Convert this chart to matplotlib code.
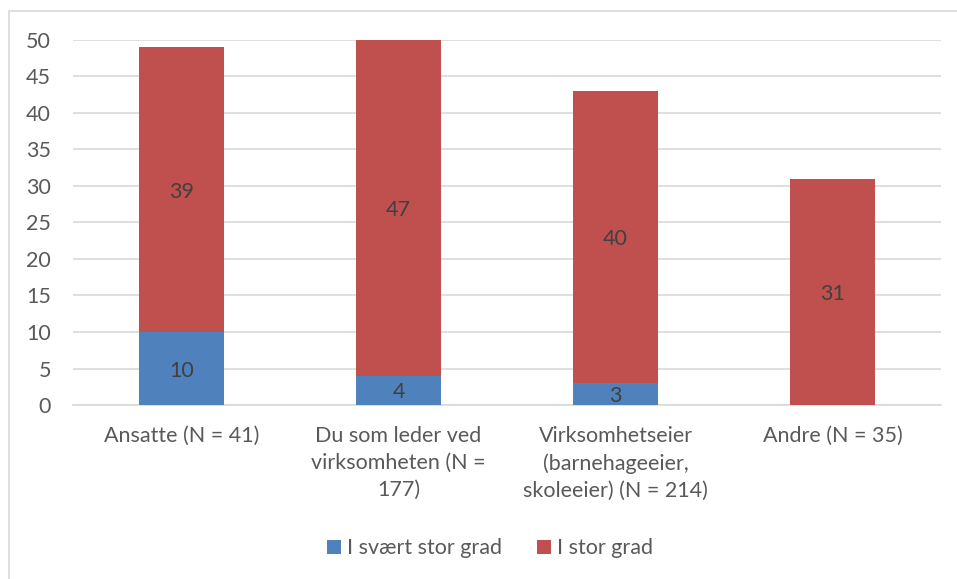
import numpy as np
import matplotlib
matplotlib.use("Agg")
import matplotlib.pyplot as plt
from matplotlib.patches import Rectangle

# ── data ──────────────────────────────────────────────────────────────────────
categories = [
    "Ansatte (N = 41)",
    "Du som leder ved\nvirksomheten (N =\n177)",
    "Virksomhetseier\n(barnehageeier,\nskoleeier) (N = 214)",
    "Andre (N = 35)",
]
svaert_stor = [10, 4, 3, 0]
stor = [39, 47, 40, 31]
series_names = ["I svært stor grad", "I stor grad"]

BLUE = "#4F81BD"
RED = "#C0504D"
TXT = "#595959"
GRID = "#D9D9D9"
YMAX = 50
FS = 15.5

plt.rcParams.update({
    "font.family": ["Lato", "DejaVu Sans"],
    "font.size": FS,
})

fig = plt.figure(figsize=(9.57, 5.79), dpi=100)
ax = fig.add_axes([0.0763, 0.3005, 0.907, 0.6305])

x = np.arange(len(categories))
w = 0.396
b1 = ax.bar(x, svaert_stor, w, color=BLUE, label=series_names[0], zorder=3)
b2 = ax.bar(x, stor, w, bottom=svaert_stor, color=RED, label=series_names[1], zorder=3)

# value labels (centred in the visible part of each segment)
for i in range(len(categories)):
    lo, hi = 0, svaert_stor[i]
    if svaert_stor[i] > 0:
        ax.text(x[i], (lo + min(hi, YMAX)) / 2, str(svaert_stor[i]),
                ha="center", va="center_baseline", color="#404040",
                fontsize=FS, zorder=4)
    lo, hi = svaert_stor[i], svaert_stor[i] + stor[i]
    if stor[i] > 0:
        ax.text(x[i], (lo + min(hi, YMAX)) / 2, str(stor[i]),
                ha="center", va="center_baseline", color="#404040",
                fontsize=FS, zorder=4)

ax.set_xlim(-0.5, len(categories) - 0.5)
ax.set_ylim(0, YMAX)
ax.set_yticks(np.arange(0, YMAX + 1, 5))
ax.yaxis.grid(True, color=GRID, linewidth=1.2, zorder=0)
ax.set_axisbelow(True)
for s in ["top", "right", "left"]:
    ax.spines[s].set_visible(False)
ax.spines["bottom"].set_color(GRID)
ax.spines["bottom"].set_linewidth(1.2)
ax.tick_params(axis="both", length=0, colors=TXT, labelsize=FS)
ax.tick_params(axis="y", pad=16)
ax.tick_params(axis="x", pad=15)
ax.set_xticks(x)
ax.set_xticklabels(categories, linespacing=1.45)

leg = fig.legend(handles=[b1, b2], loc="center", bbox_to_anchor=(0.512, 0.053),
                 ncol=2, frameon=False, fontsize=FS, handlelength=0.65,
                 handleheight=0.65, handletextpad=0.3, columnspacing=1.6)
for t in leg.get_texts():
    t.set_color(TXT)

# outer chart frame
fig.patches.append(Rectangle((9 / 957, -0.01), 1.02, 1 - 11 / 579 + 0.01,
                             transform=fig.transFigure, fill=False,
                             edgecolor=GRID, linewidth=1.2))

fig.savefig("out.png", dpi=100)
